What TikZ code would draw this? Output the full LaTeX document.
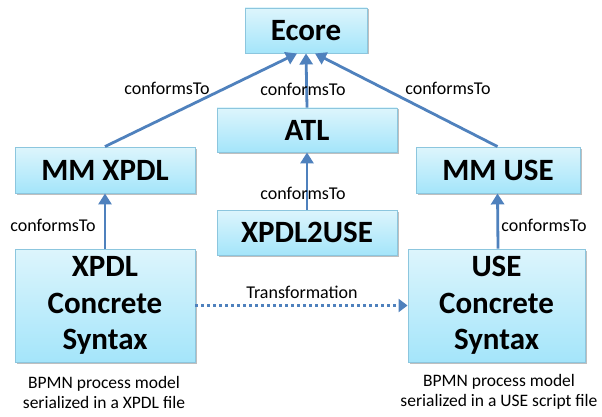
\documentclass[tikz,border=0pt]{standalone}
\usepackage{fontspec}
\setmainfont{Carlito}
\usetikzlibrary{arrows.meta,shadows}
\definecolor{boxtop}{HTML}{DDF5FC}
\definecolor{boxbot}{HTML}{A4E5FA}
\definecolor{boxline}{HTML}{8CC6DE}
\definecolor{linkblue}{HTML}{4F81BD}
\tikzset{
  mbox/.style={draw=boxline, line width=0.9pt, top color=boxtop, bottom color=boxbot,
    inner sep=0pt, align=center, font=\fontsize{31}{36.5}\selectfont\bfseries,
    drop shadow={shadow xshift=1.5pt, shadow yshift=-1.5pt, fill=black, opacity=0.25}},
  conf/.style={draw=linkblue, line width=2.8pt, -{Triangle[length=11pt,width=13pt]}},
  lbl/.style={font=\fontsize{18}{20}\selectfont, inner sep=0pt},
  note/.style={font=\fontsize{17.5}{20}\selectfont, align=center, inner sep=0pt}
}
\begin{document}
\begin{tikzpicture}[x=1pt,y=-1pt]
\useasboundingbox (0,0) rectangle (602,417);

% metamodel and model boxes
\node[mbox, minimum width=122pt, minimum height=45pt] (ecore) at (306,30.5) {Ecore};
\node[mbox, minimum width=180pt, minimum height=44pt] (atl) at (307,130) {ATL};
\node[mbox, minimum width=180pt, minimum height=45pt] (x2u) at (307,232.5) {XPDL2USE};
\node[mbox, minimum width=180pt, minimum height=46pt] (mmx) at (105,170) {MM XPDL};
\node[mbox, minimum width=164pt, minimum height=46pt] (mmu) at (498,170) {MM USE};
\node[mbox, minimum width=180pt, minimum height=113pt] (xcs) at (105,305.5) {XPDL\\Concrete\\Syntax};
\node[mbox, minimum width=177pt, minimum height=113pt] (ucs) at (496.5,305.5) {USE\\Concrete\\Syntax};

% conformance links
\draw[conf] (mmx.north) -- ([xshift=-9pt]ecore.south);
\draw[conf] (atl.north) -- (ecore.south);
\draw[conf] ([xshift=-0.5pt]mmu.north) -- ([xshift=9pt]ecore.south);
\draw[conf] (x2u.north) -- (atl.south);
\draw[conf] (xcs.north) -- (mmx.south);
\draw[conf] ([xshift=1.5pt]ucs.north) -- ([xshift=-0.5pt]mmu.south);

% transformation link
\draw[draw=linkblue, line width=2.8pt, dash pattern=on 3pt off 3pt, -{Triangle[length=9pt,width=13pt]}]
  (xcs.east) -- (ucs.west);

% labels
\node[lbl] (l1) at (167,88) {conformsTo};
\node[lbl] (l2) at (303,89) {conformsTo};
\node[lbl] (l3) at (448,88) {conformsTo};
\node[lbl] (l4) at (303,193) {conformsTo};
\node[lbl] (l5) at (53,225) {conformsTo};
\node[lbl] (l6) at (544,225) {conformsTo};
\node[lbl] (tr) at (302,292) {Transformation};

% captions
\node[note] (n1) at (104,392) {BPMN process model\\serialized in a XPDL file};
\node[note] (n2) at (499,392) {BPMN process model\\serialized in a USE script file};
\end{tikzpicture}
\end{document}
